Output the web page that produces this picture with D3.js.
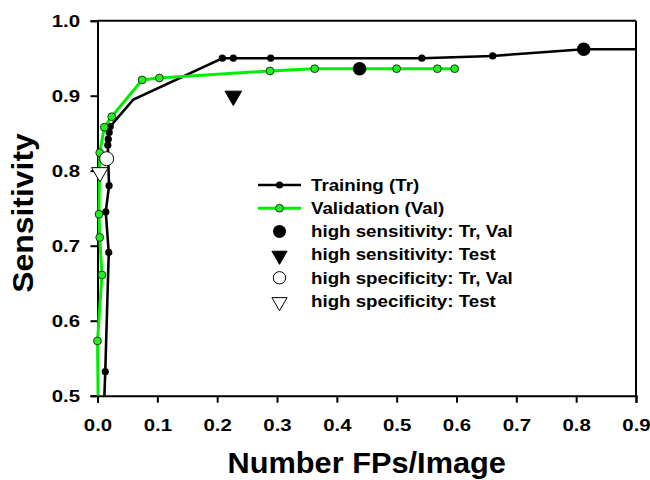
<!DOCTYPE html>
<html><head><meta charset="utf-8">
<script src="https://cdn.jsdelivr.net/npm/d3@7"></script>
<style>body{margin:0;background:#fff}svg{display:block}text{font-family:"Liberation Sans",Arial,sans-serif;font-weight:bold}</style>
</head><body>
<svg id="c" width="650" height="480"></svg>
<script>
// Training (Tr) curve
const trainX = [0.0115, 0.0130, 0.0188, 0.0138, 0.0193, 0.0172, 0.0180, 0.0195, 0.0213, 0.060, 0.2086, 0.227, 0.2895, 0.542, 0.6605, 0.8126, 0.90];
const trainY = [0.500, 0.532, 0.691, 0.745, 0.780, 0.834, 0.842, 0.851, 0.859, 0.895, 0.950, 0.950, 0.950, 0.950, 0.953, 0.962, 0.962];
const trainMark = [false, true, true, true, true, true, true, true, true, false, true, true, true, true, true, true, false];
// Validation (Val) curve
const valX = [0.0010, 0.0000, 0.0075, 0.0037, 0.0025, 0.0037, 0.0114, 0.0238, 0.0744, 0.1034, 0.2883, 0.363, 0.438, 0.500, 0.568, 0.597];
const valY = [0.500, 0.573, 0.661, 0.711, 0.742, 0.824, 0.858, 0.872, 0.921, 0.9236, 0.933, 0.936, 0.936, 0.936, 0.936, 0.936];
const valMark = [false, true, true, true, true, true, true, true, true, true, true, true, false, true, true, true];
// Operating points
const highSensTrVal = [[0.8126, 0.962], [0.438, 0.936]];
const highSensTest = [[0.227, 0.901]];
const highSpecTrVal = [[0.0153, 0.816]];
const highSpecTest = [[0.004, 0.799]];
// Axes
const xTicks = [0, 0.1, 0.2, 0.3, 0.4, 0.5, 0.6, 0.7, 0.8, 0.9];
const yTicks = [0.5, 0.6, 0.7, 0.8, 0.9, 1.0];
const legendLabels = ["Training (Tr)", "Validation (Val)", "high sensitivity: Tr, Val", "high sensitivity: Test", "high specificity: Tr, Val", "high specificity: Test"];

const svg = d3.select("#c");
const L = 97.5, R = 636, T = 20.7, B = 395.7;
const x = d3.scaleLinear().domain([0, 0.9]).range([L, R]);
const y = d3.scaleLinear().domain([0.5, 1.0]).range([B, T]);

function stretch(sel, f) {
  sel.each(function () {
    const n = this.getComputedTextLength();
    d3.select(this).attr("textLength", n * f).attr("lengthAdjust", "spacingAndGlyphs");
  });
}

svg.append("defs").append("clipPath").attr("id", "clip")
  .append("rect").attr("x", L - 10).attr("y", T).attr("width", R - L + 10).attr("height", B - T);

const gx = svg.append("g").attr("transform", `translate(0,${B})`)
  .call(d3.axisBottom(x).tickValues(xTicks).tickFormat(d3.format(".1f")).tickSizeOuter(0).tickSize(7).tickPadding(16.5));
const gy = svg.append("g").attr("transform", `translate(${L},0)`)
  .call(d3.axisLeft(y).tickValues(yTicks).tickFormat(d3.format(".1f")).tickSizeOuter(0).tickSize(7).tickPadding(10.5));
[gx, gy].forEach(g => {
  g.selectAll("path.domain").attr("stroke", "#000").attr("stroke-width", 2);
  g.selectAll(".tick line").attr("stroke", "#000").attr("stroke-width", 2);
  const t = g.selectAll(".tick text").attr("fill", "#000").style("font-size", "17px");
  stretch(t, 1.2);
});
// top and right frame
svg.append("line").attr("x1", L).attr("x2", R).attr("y1", T).attr("y2", T).attr("stroke", "#000").attr("stroke-width", 2);
svg.append("line").attr("x1", R).attr("x2", R).attr("y1", T).attr("y2", B + 1).attr("stroke", "#000").attr("stroke-width", 2);

const plot = svg.append("g").attr("clip-path", "url(#clip)");
const line = d3.line().x(d => x(d[0])).y(d => y(d[1]));
const tr = trainX.map((v, i) => [v, trainY[i], trainMark[i]]);
const va = valX.map((v, i) => [v, valY[i], valMark[i]]);

plot.append("path").datum(tr).attr("d", line).attr("fill", "none").attr("stroke", "#000").attr("stroke-width", 2.6);
plot.selectAll("circle.tr").data(tr.filter(d => d[2])).join("circle")
  .attr("cx", d => x(d[0])).attr("cy", d => y(d[1])).attr("r", 3.6).attr("fill", "#000");

plot.append("path").datum(va).attr("d", line).attr("fill", "none").attr("stroke", "#00ee00").attr("stroke-width", 3);
plot.selectAll("circle.va").data(va.filter(d => d[2])).join("circle")
  .attr("cx", d => x(d[0])).attr("cy", d => y(d[1])).attr("r", 3.9)
  .attr("fill", "#22ee22").attr("stroke", "#1a3a1a").attr("stroke-width", 1);

function triDown(g, cx, cy, fill, size) {
  g.append("path").attr("d", d3.symbol().type(d3.symbolTriangle).size(size)())
    .attr("transform", `translate(${cx},${cy}) rotate(180)`)
    .attr("fill", fill).attr("stroke", "#000").attr("stroke-width", 1);
}
highSensTrVal.forEach(d => plot.append("circle").attr("cx", x(d[0])).attr("cy", y(d[1])).attr("r", 6.8).attr("fill", "#000"));
highSensTest.forEach(d => triDown(plot, x(d[0]), y(d[1]) + 1, "#000", 120));
highSpecTrVal.forEach(d => plot.append("circle").attr("cx", x(d[0])).attr("cy", y(d[1])).attr("r", 7).attr("fill", "#fff").attr("stroke", "#000").attr("stroke-width", 1));
highSpecTest.forEach(d => triDown(plot, x(d[0]), y(d[1]) + 1, "#fff", 120));

// Legend
const lg = svg.append("g");
const lx0 = 258, lx1 = 301, lcx = 279.5, ltx = 311, ly0 = 185, ldy = 23.2;
legendLabels.forEach((t, i) => {
  const yy = ly0 + i * ldy;
  if (i === 0) {
    lg.append("line").attr("x1", lx0).attr("x2", lx1).attr("y1", yy).attr("y2", yy).attr("stroke", "#000").attr("stroke-width", 2.6);
    lg.append("circle").attr("cx", lcx).attr("cy", yy).attr("r", 3.6).attr("fill", "#000");
  } else if (i === 1) {
    lg.append("line").attr("x1", lx0).attr("x2", lx1).attr("y1", yy).attr("y2", yy).attr("stroke", "#00ee00").attr("stroke-width", 3);
    lg.append("circle").attr("cx", lcx).attr("cy", yy).attr("r", 3.9).attr("fill", "#22ee22").attr("stroke", "#1a3a1a").attr("stroke-width", 1);
  } else if (i === 2) {
    lg.append("circle").attr("cx", lcx).attr("cy", yy).attr("r", 6.5).attr("fill", "#000");
  } else if (i === 3) {
    triDown(lg, lcx, yy + 1, "#000", 100);
  } else if (i === 4) {
    lg.append("circle").attr("cx", lcx).attr("cy", yy).attr("r", 6.2).attr("fill", "#fff").attr("stroke", "#000").attr("stroke-width", 1);
  } else {
    triDown(lg, lcx, yy + 1, "#fff", 100);
  }
  const tx = lg.append("text").attr("x", ltx).attr("y", yy).attr("dy", "0.36em").style("font-size", "16px").attr("fill", "#000").text(t);
  stretch(tx, 1.17);
});

// Axis titles
const xt = svg.append("text").attr("x", (L + R) / 2).attr("y", 473).attr("text-anchor", "middle").style("font-size", "29px").attr("fill", "#000").text("Number FPs/Image");
stretch(xt, 1.06);
const yt = svg.append("text").attr("transform", "translate(33,213) rotate(-90)").attr("text-anchor", "middle").style("font-size", "29px").attr("fill", "#000").text("Sensitivity");
stretch(yt, 1.1);
</script>
</body></html>
